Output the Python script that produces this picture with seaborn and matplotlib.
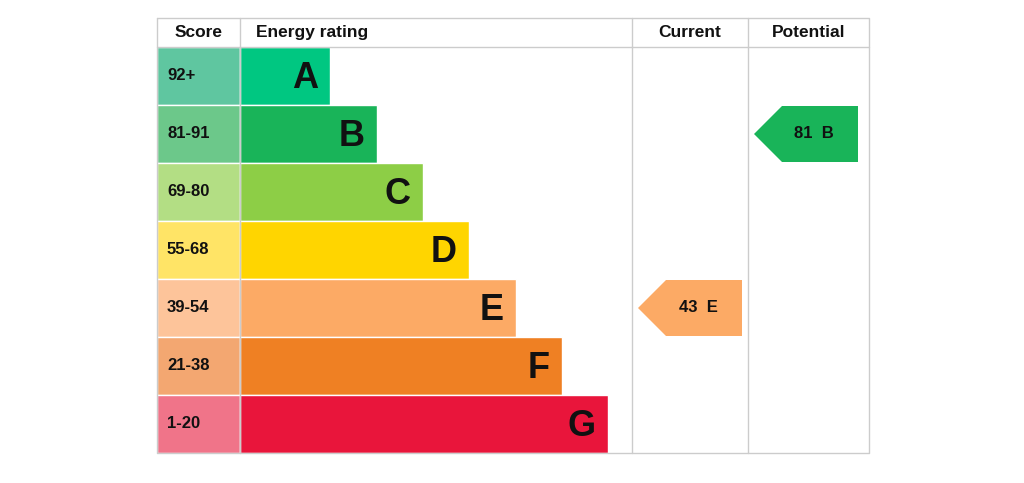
import matplotlib
matplotlib.use("Agg")
import matplotlib.pyplot as plt
import seaborn as sns
from matplotlib.patches import Polygon

sns.set_style("white")
plt.rcParams['font.family'] = ['Liberation Sans', 'DejaVu Sans']

letters = ["A", "B", "C", "D", "E", "F", "G"]
scores = ["92+", "81-91", "69-80", "55-68", "39-54", "21-38", "1-20"]
bar_lengths = [90, 137, 183, 229, 276, 322, 368]
bar_colors = ["#00c781", "#19b459", "#8dce46", "#ffd500", "#fcaa65", "#ef8023", "#e9153b"]
score_colors = ["#5fc6a0", "#6cc88a", "#b3de84", "#ffe466", "#fdc49a", "#f3a771", "#f07489"]
current_value, current_letter = 43, "E"
potential_value, potential_letter = 81, "B"

fig = plt.figure(figsize=(10.24, 4.83), dpi=100)
ax = fig.add_axes([0, 0, 1, 1])
ax.set_xlim(0, 1024); ax.set_ylim(483, 0); ax.axis("off")

top, head, rh = 18, 47, 58
x0, x1, x2, x3, x4 = 157, 240, 632, 748, 869
bottom = head + rh * 7
grid = "#cccccc"
ax.plot([x0, x4, x4, x0, x0], [top, top, bottom, bottom, top], color=grid, lw=1)
ax.plot([x0, x4], [head, head], color=grid, lw=1)
for x in (x1, x2, x3):
    ax.plot([x, x], [top, bottom], color=grid, lw=1)

hdr = dict(fontsize=12.5, fontweight="bold", va="center", color="#111")
ax.text(x0 + 42, (top + head) / 2, "Score", ha="center", **hdr)
ax.text(256, (top + head) / 2, "Energy rating", ha="left", **hdr)
ax.text((x2 + x3) / 2, (top + head) / 2, "Current", ha="center", **hdr)
ax.text((x3 + x4) / 2, (top + head) / 2, "Potential", ha="center", **hdr)

ys = [head + rh * i + rh / 2 for i in range(7)]
ax.barh(ys, [x1 - x0] * 7, left=x0, height=rh, color=score_colors)
ax.barh(ys, bar_lengths, left=x1, height=rh, color=bar_colors)
for y, s, L, w in zip(ys, scores, letters, bar_lengths):
    ax.text(x0 + 10, y, s, ha="left", va="center", fontsize=12, fontweight="bold", color="#111")
    ax.text(x1 + w - 12, y + 2, L, ha="right", va="center", fontsize=26, fontweight="bold", color="#111")

def arrow(xl, xr, letter, value):
    i = letters.index(letter)
    yt, yb = head + rh * i + 1, head + rh * (i + 1) - 1
    ym = (yt + yb) / 2
    ax.add_patch(Polygon([(xl, ym), (xl + 28, yt), (xr, yt), (xr, yb), (xl + 28, yb)],
                         closed=True, color=bar_colors[i], lw=0))
    ax.text((xl + xr) / 2 + 8, ym, f"{value}  {letter}", ha="center", va="center",
            fontsize=12, fontweight="bold", color="#111")

arrow(638, 742, current_letter, current_value)
arrow(754, 858, potential_letter, potential_value)

fig.savefig("out.png", dpi=100)
